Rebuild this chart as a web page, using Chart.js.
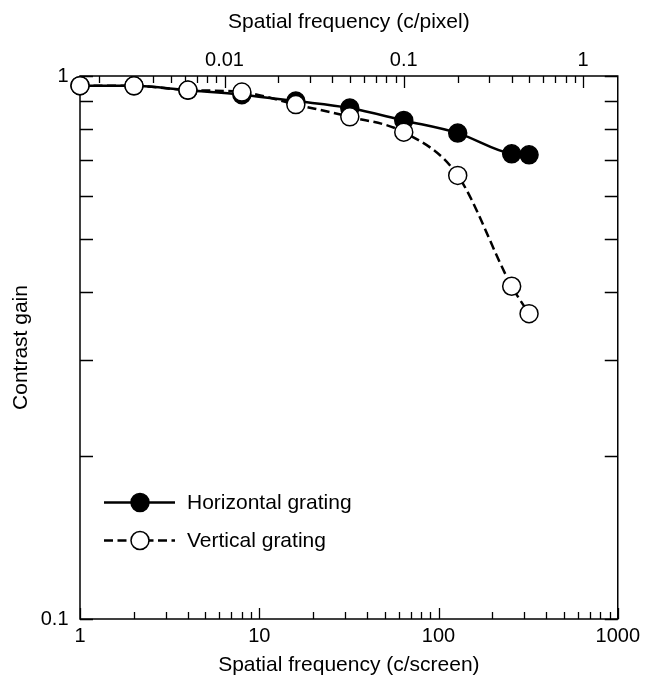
<!DOCTYPE html>
<html>
<head>
<meta charset="utf-8">
<script src="https://cdn.jsdelivr.net/npm/chart.js@4.4.1/dist/chart.umd.min.js"></script>
<style>
  html, body { margin: 0; padding: 0; background: #fff; }
  #wrap { width: 645px; height: 678px; }
</style>
</head>
<body>
<div id="wrap"><canvas id="chart" width="645" height="678"></canvas></div>
<script>
// spatial frequency in cycles per screen, and the contrast gain
const freqScreen = [1, 2, 4, 8, 16, 32, 64, 128, 256, 320];
const gainHorizontal = [0.960, 0.959, 0.941, 0.924, 0.899, 0.873, 0.828, 0.785, 0.719, 0.716];
const gainVertical = [0.960, 0.959, 0.942, 0.934, 0.886, 0.841, 0.788, 0.656, 0.410, 0.365];

// top axis is the same frequency in cycles per pixel (640 pixels per screen)
const pixelsPerScreen = 640;

const xTickLabels = [1, 10, 100, 1000];
const topTickLabels = [0.01, 0.1, 1];
const yTickLabels = [0.1, 1];

const FONT = '"Liberation Sans", Arial, Helvetica, sans-serif';

function isDecade(v) {
    const l = Math.log10(v);
    return Math.abs(l - Math.round(l)) < 1e-6;
}

function inList(list, v) {
    return list.some(t => Math.abs(t - v) / t < 1e-6);
}

// 1..9 x 10^k ticks between min and max
function logTicks(min, max) {
    const out = [];
    for (let e = Math.floor(Math.log10(min)); e <= Math.ceil(Math.log10(max)); e++) {
        for (let k = 1; k <= 9; k++) {
            const v = +(k * Math.pow(10, e)).toPrecision(3);
            if (v >= min * (1 - 1e-9) && v <= max * (1 + 1e-9)) out.push({ value: v });
        }
    }
    return out;
}

// frame plus inward tick marks on all four sides
const frameTicks = {
    id: 'frameTicks',
    beforeDatasetsDraw(chart) {
        const { ctx, chartArea: a, scales } = chart;
        ctx.save();
        ctx.strokeStyle = '#000';
        ctx.lineWidth = 1.3;
        ctx.beginPath();
        scales.x.ticks.forEach(t => {
            const px = Math.round(scales.x.getPixelForValue(t.value)) + 0.5;
            const len = isDecade(t.value) ? 11 : 7;
            ctx.moveTo(px, a.bottom);
            ctx.lineTo(px, a.bottom - len);
        });
        scales.x2.ticks.forEach(t => {
            const px = Math.round(scales.x2.getPixelForValue(t.value)) + 0.5;
            const len = isDecade(t.value) ? 12 : 7;
            ctx.moveTo(px, a.top);
            ctx.lineTo(px, a.top + len);
        });
        scales.y.ticks.forEach(t => {
            const py = Math.round(scales.y.getPixelForValue(t.value)) + 0.5;
            ctx.moveTo(a.left, py);
            ctx.lineTo(a.left + 13, py);
            ctx.moveTo(a.right, py);
            ctx.lineTo(a.right - 13, py);
        });
        ctx.stroke();
        ctx.lineWidth = 1.5;
        ctx.strokeRect(a.left, a.top, a.right - a.left, a.bottom - a.top);
        ctx.restore();
    }
};

// legend drawn inside the plot: line with the marker in the middle
const gratingLegend = {
    id: 'gratingLegend',
    afterDraw(chart) {
        const { ctx, chartArea: a } = chart;
        chart.data.datasets.forEach((ds, row) => {
            const y = a.bottom - 116.5 + row * 38;
            const x0 = a.left + 24, x1 = a.left + 95, cx = a.left + 60;
            ctx.save();
            ctx.strokeStyle = ds.borderColor;
            ctx.lineWidth = ds.borderWidth;
            ctx.setLineDash(ds.borderDash || []);
            ctx.beginPath();
            ctx.moveTo(x0, y);
            ctx.lineTo(x1, y);
            ctx.stroke();
            ctx.setLineDash([]);
            ctx.beginPath();
            ctx.arc(cx, y, ds.pointRadius, 0, 2 * Math.PI);
            ctx.fillStyle = ds.pointBackgroundColor;
            ctx.fill();
            ctx.lineWidth = ds.pointBorderWidth;
            ctx.strokeStyle = ds.pointBorderColor;
            ctx.stroke();
            ctx.fillStyle = '#000';
            ctx.font = '21px ' + FONT;
            ctx.textBaseline = 'middle';
            ctx.fillText(ds.label, a.left + 107, y + 0.5);
            ctx.restore();
        });
    }
};

const ctx = document.getElementById('chart').getContext('2d');

new Chart(ctx, {
    type: 'line',
    data: {
        datasets: [
            {
                label: 'Horizontal grating',
                data: freqScreen.map((f, i) => ({ x: f, y: gainHorizontal[i] })),
                borderColor: '#000',
                borderWidth: 2.5,
                borderDash: [],
                cubicInterpolationMode: 'monotone',
                pointRadius: 9,
                pointBackgroundColor: '#000',
                pointBorderColor: '#000',
                pointBorderWidth: 1.5,
                clip: false,
                order: 1
            },
            {
                label: 'Vertical grating',
                data: freqScreen.map((f, i) => ({ x: f, y: gainVertical[i] })),
                borderColor: '#000',
                borderWidth: 2.5,
                borderDash: [9, 4.5],
                cubicInterpolationMode: 'monotone',
                pointRadius: 9,
                pointBackgroundColor: '#fff',
                pointBorderColor: '#000',
                pointBorderWidth: 1.5,
                clip: false,
                order: 0
            }
        ]
    },
    options: {
        responsive: false,
        animation: false,
        devicePixelRatio: 1,
        layout: { padding: { top: 0, right: 23, bottom: 0, left: 0 } },
        plugins: {
            legend: { display: false },
            tooltip: { enabled: false }
        },
        scales: {
            x: {
                type: 'logarithmic',
                position: 'bottom',
                min: 1,
                max: 1000,
                border: { display: false },
                grid: { display: false, drawTicks: false },
                afterBuildTicks: s => { s.ticks = logTicks(s.min, s.max); },
                ticks: {
                    autoSkip: false,
                    maxRotation: 0,
                    padding: 5,
                    color: '#000',
                    font: { family: FONT, size: 20 },
                    callback: v => inList(xTickLabels, v) ? String(v) : ''
                },
                title: {
                    display: true,
                    text: 'Spatial frequency (c/screen)',
                    color: '#000',
                    font: { family: FONT, size: 21 },
                    padding: { top: 0, bottom: 0 }
                },
                afterFit: s => { s.height = 59; }
            },
            x2: {
                type: 'logarithmic',
                position: 'top',
                min: 1 / pixelsPerScreen,
                max: 1000 / pixelsPerScreen,
                border: { display: false },
                grid: { display: false, drawTicks: false },
                afterBuildTicks: s => { s.ticks = logTicks(s.min, s.max); },
                ticks: {
                    autoSkip: false,
                    maxRotation: 0,
                    padding: 4,
                    color: '#000',
                    font: { family: FONT, size: 20 },
                    callback: v => inList(topTickLabels, v) ? String(v) : ''
                },
                title: {
                    display: true,
                    text: 'Spatial frequency (c/pixel)',
                    color: '#000',
                    font: { family: FONT, size: 21 },
                    padding: { top: 9.5, bottom: 0 }
                },
                afterFit: s => { s.height = 76; }
            },
            y: {
                type: 'logarithmic',
                position: 'left',
                min: 0.1,
                max: 1,
                border: { display: false },
                grid: { display: false, drawTicks: false },
                afterBuildTicks: s => { s.ticks = logTicks(s.min, s.max); },
                ticks: {
                    autoSkip: false,
                    padding: 11.5,
                    color: '#000',
                    font: { family: FONT, size: 20 },
                    callback: v => inList(yTickLabels, v) ? String(v) : ''
                },
                title: {
                    display: true,
                    text: 'Contrast gain',
                    color: '#000',
                    font: { family: FONT, size: 21 },
                    padding: { top: 9, bottom: 0 }
                },
                afterFit: s => { s.width = 80; }
            }
        }
    },
    plugins: [frameTicks, gratingLegend]
});
</script>
</body>
</html>
